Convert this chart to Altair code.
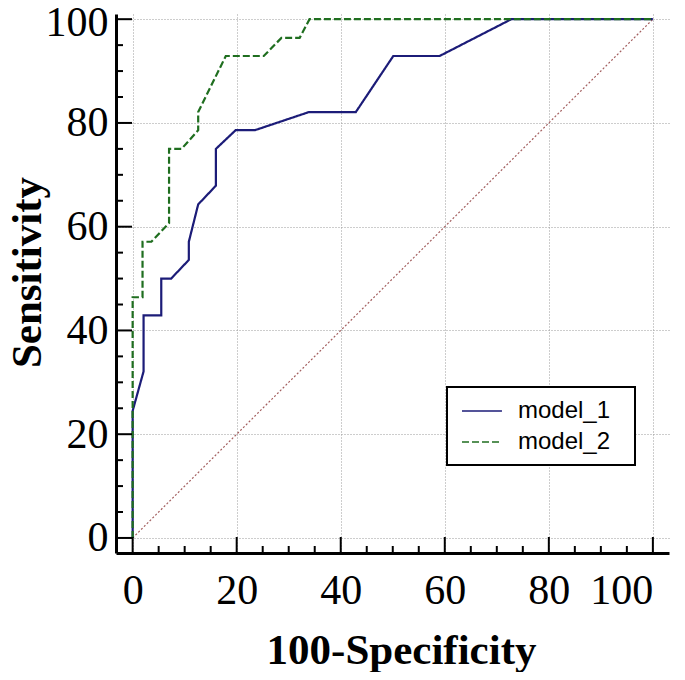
import altair as alt
import pandas as pd

# ROC curve points (100-Specificity, Sensitivity)
m1_x = [0, 0, 2.1, 2.1, 5.5, 5.5, 7.4, 10.8, 10.8, 12.6, 16.0, 16.0, 19.8, 23.5, 33.9, 42.9, 50.1, 59.0, 72.8, 100]
m1_y = [0, 24.5, 32.1, 42.9, 42.9, 50.0, 50.0, 53.6, 57.1, 64.3, 67.9, 75.0, 78.6, 78.6, 82.1, 82.1, 92.9, 92.9, 100, 100]
m2_x = [0, 0, 1.9, 1.9, 3.6, 7.0, 7.0, 9.4, 12.6, 12.6, 17.9, 25.2, 28.6, 32.1, 34.0, 100]
m2_y = [0, 46.4, 46.4, 57.1, 57.1, 60.7, 75.0, 75.0, 78.6, 82.1, 92.9, 92.9, 96.4, 96.4, 100, 100]
series = ["model_1", "model_2"]
colors = ["#1c1c78", "#1f6e1f"]
dashes = [[1, 0], [7, 3]]
diag_x = [0, 100]
diag_y = [0, 100]
tick_major = [0, 20, 40, 60, 80, 100]
tick_minor = [5, 10, 15, 25, 30, 35, 45, 50, 55, 65, 70, 75, 85, 90, 95]

rows = []
for name, xs, ys in [(series[0], m1_x, m1_y), (series[1], m2_x, m2_y)]:
    for i, (x, y) in enumerate(zip(xs, ys)):
        rows.append({"series": name, "x": x, "y": y, "order": i})
df = pd.DataFrame(rows)
diag_df = pd.DataFrame({"x": diag_x, "y": diag_y})
major_df = pd.DataFrame({"t": tick_major})
minor_df = pd.DataFrame({"t": tick_minor})

W, H = 553, 539
xscale = alt.Scale(domain=[-3.2, 103.1], nice=False, zero=False)
yscale = alt.Scale(domain=[-2.9, 101.0], nice=False, zero=False)

xaxis = alt.Axis(
    title="100-Specificity", values=tick_major,
    labelAlign=alt.condition("datum.value == 100", alt.value("right"), alt.value("center")),
)
yaxis = alt.Axis(
    title="Sensitivity", values=tick_major,
    labelOffset=alt.condition("datum.value == 100", alt.value(3), alt.value(0)),
)

diag = alt.Chart(diag_df).mark_line(color="#a35f5f", strokeWidth=1.2, strokeDash=[2, 2]).encode(
    x=alt.X("x:Q", scale=xscale, axis=xaxis),
    y=alt.Y("y:Q", scale=yscale, axis=yaxis),
)

leg = alt.Legend(title="\u00a0", titleOrient="right", titlePadding=14, titleFontSize=24)
curves = alt.Chart(df).mark_line(strokeWidth=2.2).encode(
    x=alt.X("x:Q", scale=xscale, axis=xaxis),
    y=alt.Y("y:Q", scale=yscale, axis=yaxis),
    color=alt.Color("series:N", scale=alt.Scale(domain=series, range=colors), legend=leg),
    strokeDash=alt.StrokeDash("series:N", scale=alt.Scale(domain=series, range=dashes), legend=leg),
    order="order:Q",
)

xmaj = alt.Chart(major_df).mark_rule(color="black", strokeWidth=2).encode(
    x=alt.X("t:Q", scale=xscale, axis=xaxis), y=alt.value(H), y2=alt.value(H - 16))
xmin = alt.Chart(minor_df).mark_rule(color="black", strokeWidth=2).encode(
    x=alt.X("t:Q", scale=xscale, axis=xaxis), y=alt.value(H), y2=alt.value(H - 7))
ymaj = alt.Chart(major_df).mark_rule(color="black", strokeWidth=2).encode(
    y=alt.Y("t:Q", scale=yscale, axis=yaxis), x=alt.value(0), x2=alt.value(16))
ymin = alt.Chart(minor_df).mark_rule(color="black", strokeWidth=2).encode(
    y=alt.Y("t:Q", scale=yscale, axis=yaxis), x=alt.value(0), x2=alt.value(7))

chart = alt.layer(diag, curves, xmaj, xmin, ymaj, ymin).properties(
    width=W, height=H,
    autosize=alt.AutoSizeParams(type="none"),
    padding={"left": 108, "top": 6, "right": 6, "bottom": 119},
).configure_view(stroke=None).configure_axis(
    domainColor="black", domainWidth=3, ticks=False, grid=True,
    gridColor="#9a9a9a", gridDash=[1, 2], gridWidth=1,
    labelFont="Liberation Serif", labelFontSize=42, labelColor="black",
    titleFont="Liberation Serif", titleFontSize=43, titleFontWeight="bold", titleColor="black",
).configure_axisX(
    labelPadding=17, titleX=285, titleY=110, titleBaseline="alphabetic", titleAlign="center",
).configure_axisY(
    labelPadding=8, titleX=-76, titleY=258, titleAngle=270, titleBaseline="alphabetic", titleAlign="center",
).configure_legend(
    orient="none", legendX=331, legendY=373, strokeColor="black", fillColor="white",
    strokeWidth=2,
    padding=11, labelFont="Liberation Sans", labelFontSize=24, labelColor="black",
    symbolType="M-0.75,0H2.58", symbolSize=576, symbolStrokeWidth=1.5, labelOffset=34,
    rowPadding=6,
)

chart.save("out.html", embed_options={"renderer": "svg", "actions": False})
